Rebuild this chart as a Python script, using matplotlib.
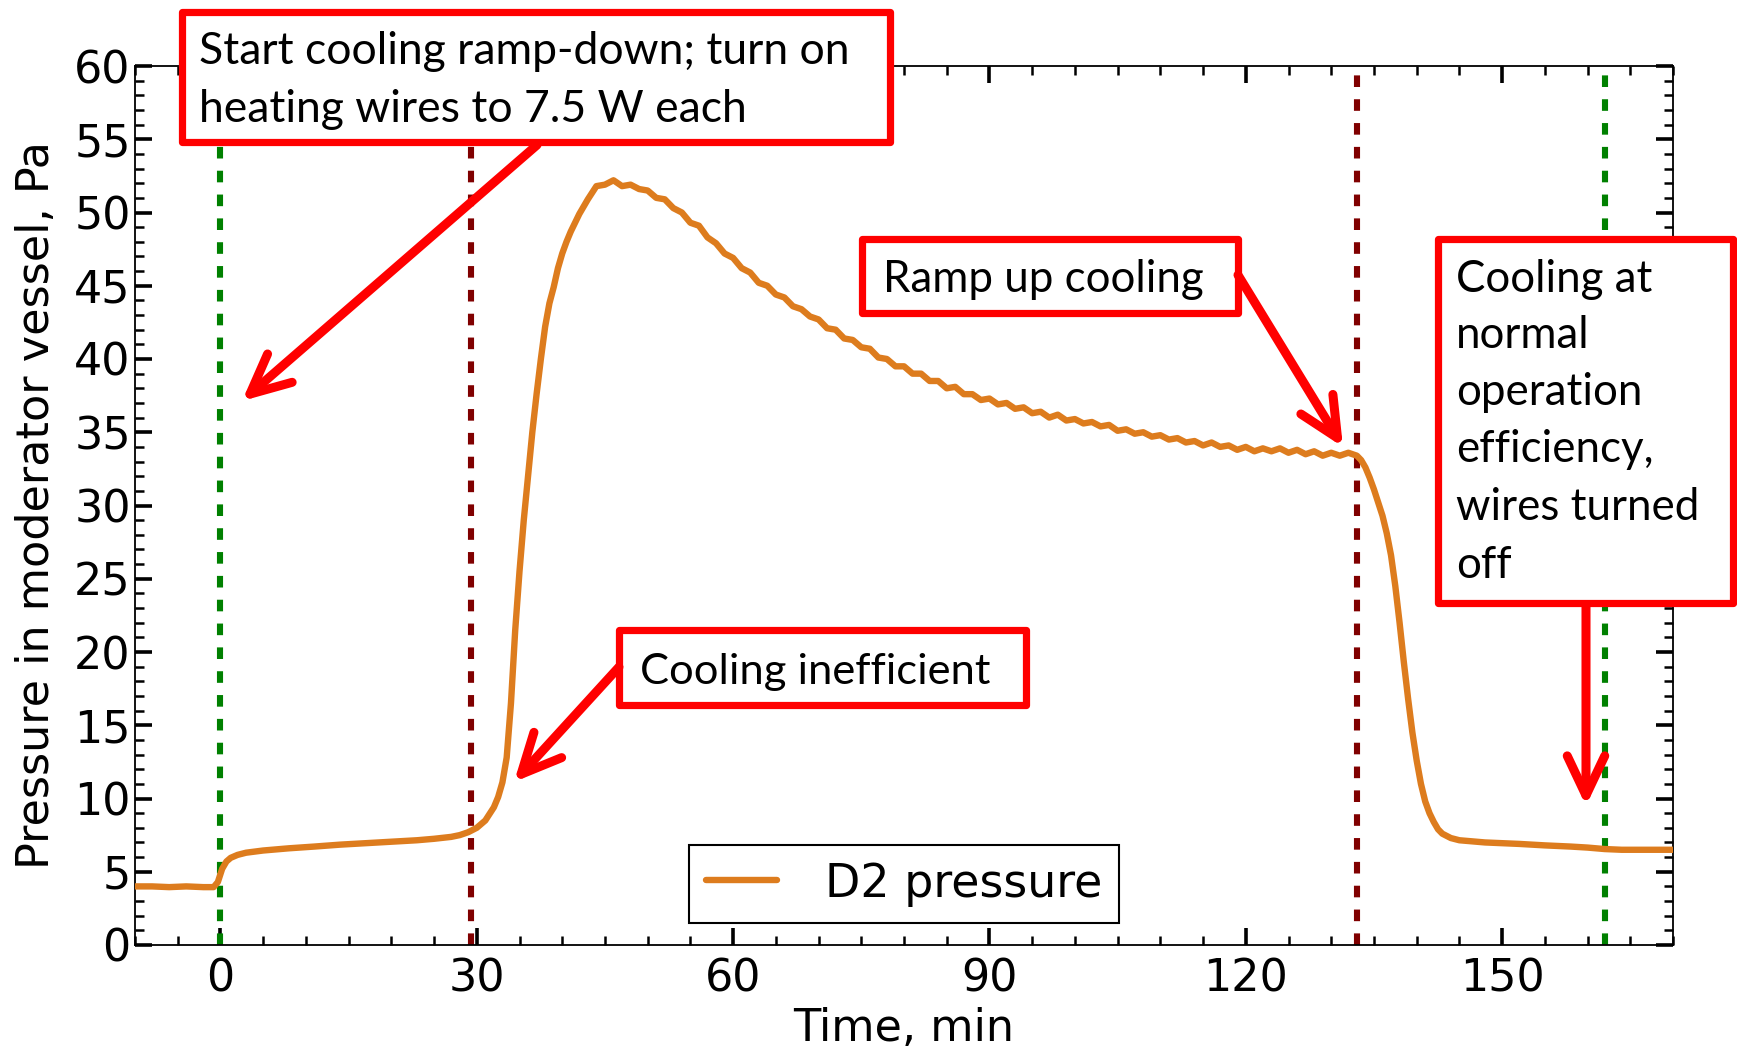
import matplotlib
matplotlib.use("Agg")
import matplotlib.pyplot as plt
from matplotlib.patches import Rectangle, FancyArrowPatch, ArrowStyle
from matplotlib.ticker import MultipleLocator

# ---------------- data ----------------
time_min = [-10, -8, -6, -4, -2, -0.8, -0.3, 0.2, 0.7, 1.2, 2, 3, 5, 8, 11, 14, 17, 20,
            23, 25, 27, 28, 29, 30, 31, 32, 32.5, 33, 33.5, 34, 34.5, 35, 35.5, 36, 36.5,
            37, 37.5, 38, 38.5, 39, 39.5, 40, 40.5, 41, 42, 43,
            44, 45, 46, 47, 48, 49, 50, 51, 52, 53, 54, 55, 56, 57, 58, 59, 60, 61, 62, 63,
            64, 65, 66, 67, 68, 69, 70, 71, 72, 73, 74, 75, 76, 77, 78, 79, 80, 81, 82, 83,
            84, 85, 86, 87, 88, 89, 90, 91, 92, 93, 94, 95, 96, 97, 98, 99, 100, 101, 102,
            103, 104, 105, 106, 107, 108, 109, 110, 111, 112, 113, 114, 115, 116, 117, 118,
            119, 120, 121, 122, 123, 124, 125, 126, 127, 128, 129, 130, 131, 132,
            133, 133.5, 134, 134.5, 135, 135.5, 136, 136.5, 137, 137.5, 138, 138.5, 139,
            139.5, 140, 140.5, 141, 141.5, 142, 142.5, 143, 144, 145, 146, 148, 150, 152,
            155, 158, 160, 162, 164, 167, 170]
pressure_pa = [4.0, 4.0, 3.95, 4.0, 3.95, 3.95, 4.3, 5.2, 5.7, 5.95, 6.15, 6.3, 6.45, 6.6,
               6.72, 6.85, 6.95, 7.05, 7.15, 7.25, 7.38, 7.5, 7.7, 8.0, 8.5, 9.4, 10.1, 11.1,
               12.8, 16.5, 21.5, 25.5, 29.0, 32.0, 35.0, 37.6, 40.0, 42.2, 43.8, 44.9, 46.2,
               47.2, 48.0, 48.7, 49.9, 50.9,
               51.8, 51.9, 52.2, 51.8, 51.9, 51.6, 51.5, 51.0, 50.9, 50.3, 50.0, 49.3, 49.1,
               48.3, 47.9, 47.2, 46.9, 46.2, 45.9, 45.2, 45.0, 44.4, 44.2, 43.6, 43.4, 42.9,
               42.7, 42.1, 42.0, 41.4, 41.3, 40.8, 40.7, 40.1, 40.0, 39.5, 39.5, 39.0, 39.0,
               38.5, 38.5, 38.0, 38.1, 37.6, 37.6, 37.2, 37.3, 36.9, 37.0, 36.6, 36.7, 36.3,
               36.4, 36.0, 36.2, 35.8, 35.9, 35.6, 35.7, 35.4, 35.5, 35.1, 35.2, 34.9, 35.0,
               34.7, 34.8, 34.5, 34.6, 34.3, 34.4, 34.1, 34.3, 34.0, 34.1, 33.8, 34.0, 33.7,
               33.9, 33.7, 33.9, 33.6, 33.8, 33.5, 33.7, 33.4, 33.6, 33.4, 33.6,
               33.4, 33.1, 32.6, 31.9, 31.1, 30.2, 29.3, 28.1, 26.6, 24.5, 22.0, 19.3, 16.8,
               14.5, 12.6, 11.0, 9.8, 9.0, 8.4, 7.9, 7.6, 7.3, 7.15, 7.1, 7.0, 6.95, 6.9,
               6.8, 6.72, 6.65, 6.55, 6.5, 6.5, 6.5]
green_events = [0, 162]
red_events = [29.3, 133.0]
series_label = "D2 pressure"
x_label = "Time, min"
y_label = "Pressure in moderator vessel, Pa"
x_ticks = [0, 30, 60, 90, 120, 150]

# annotation boxes: (lines, box left, top, right, bottom, text left, baselines) in px
boxes = [
    (["Start cooling ramp-down; turn on", "heating wires to 7.5 W each"],
     182, 12, 890, 142, 199, [64, 122], 652),
    (["Ramp up cooling"], 862, 239, 1238, 313, 883, [292], 320),
    (["Cooling inefficient"], 619, 630, 1026, 705, 640, [684], 350),
    (["Cooling at", "normal", "operation", "efficiency,", "wires turned", "off"],
     1438, 239, 1733, 603, 1456, [292, 348, 405, 462, 520, 578], 243),
]
arrows = [((537, 145), (242, 401)),
          ((619, 667), (514, 782)),
          ((1238, 275), (1343, 447)),
          ((1586, 606), (1586, 806))]

# ---------------- figure ----------------
W, H = 1737, 1048
fig = plt.figure(figsize=(W / 100, H / 100), dpi=100)
ax = fig.add_axes([135 / W, 1 - 945 / H, (1673 - 135) / W, (945 - 66) / H])

orange = "#DD7C1E"
ax.plot(time_min, pressure_pa, color=orange, lw=4.6, label=series_label, zorder=3,
        solid_joinstyle="round", solid_capstyle="round")
for xv in green_events:
    ax.axvline(xv, color="#008000", lw=4.4, linestyle=(0, (1.9, 2.0)), zorder=2)
for xv in red_events:
    ax.axvline(xv, color="#800000", lw=4.4, linestyle=(0, (1.9, 2.0)), zorder=2)

ax.set_xlim(-10, 170)
ax.set_ylim(0, 60)
ax.set_xticks(x_ticks)
ax.xaxis.set_minor_locator(MultipleLocator(5))
ax.yaxis.set_major_locator(MultipleLocator(5))
ax.yaxis.set_minor_locator(MultipleLocator(1))
ax.tick_params(which="both", direction="in", top=True, right=True, labelsize=32)
ax.tick_params(which="major", length=12, width=2.6)
ax.tick_params(which="minor", length=6.5, width=1.8)
ax.tick_params(axis="x", which="major", pad=9)
ax.tick_params(axis="y", which="major", pad=3)
for sp in ax.spines.values():
    sp.set_linewidth(1.3)

ax.set_xlabel(x_label, fontsize=32)
ax.set_ylabel(y_label, fontsize=32)
ax.xaxis.set_label_coords(0.5, -0.071)
ax.yaxis.set_label_coords(-0.05, 0.5)

leg = ax.legend(loc="lower center", bbox_to_anchor=(0.5, 0.025), borderaxespad=0,
                fontsize=33, fancybox=False, edgecolor="black", framealpha=1,
                handlelength=1.55, handletextpad=1.05, borderpad=0.36)
leg.get_frame().set_linewidth(1.5)


def fx(x):
    return x / W


def fy(y):
    return 1 - y / H


renderer = fig.canvas.get_renderer()
for lines, bl, bt, br, bb, tl, baselines, target_w in boxes:
    rect = Rectangle((fx(bl), fy(bb)), fx(br) - fx(bl), fy(bt) - fy(bb),
                     transform=fig.transFigure, facecolor="white", edgecolor="#FF0000",
                     lw=5.2, zorder=4, joinstyle="round")
    fig.add_artist(rect)
    texts = [fig.text(fx(tl), fy(yb), s, ha="left", va="baseline", fontsize=28,
                      family=["Lato", "DejaVu Sans"], color="black", zorder=5)
             for s, yb in zip(lines, baselines)]
    widest = max(t.get_window_extent(renderer).width for t in texts)
    size = 28 * target_w / widest
    for t in texts:
        t.set_fontsize(size)

style = ArrowStyle("->", head_length=2.85, head_width=1.35)
for (x0, y0), (x1, y1) in arrows:
    arr = FancyArrowPatch((fx(x0), fy(y0)), (fx(x1), fy(y1)), transform=fig.transFigure,
                          arrowstyle=style, mutation_scale=10, color="#FF0000", lw=6.5,
                          shrinkA=0, shrinkB=0, capstyle="round", joinstyle="round",
                          zorder=6)
    fig.add_artist(arr)

fig.savefig("out.png", dpi=100)
